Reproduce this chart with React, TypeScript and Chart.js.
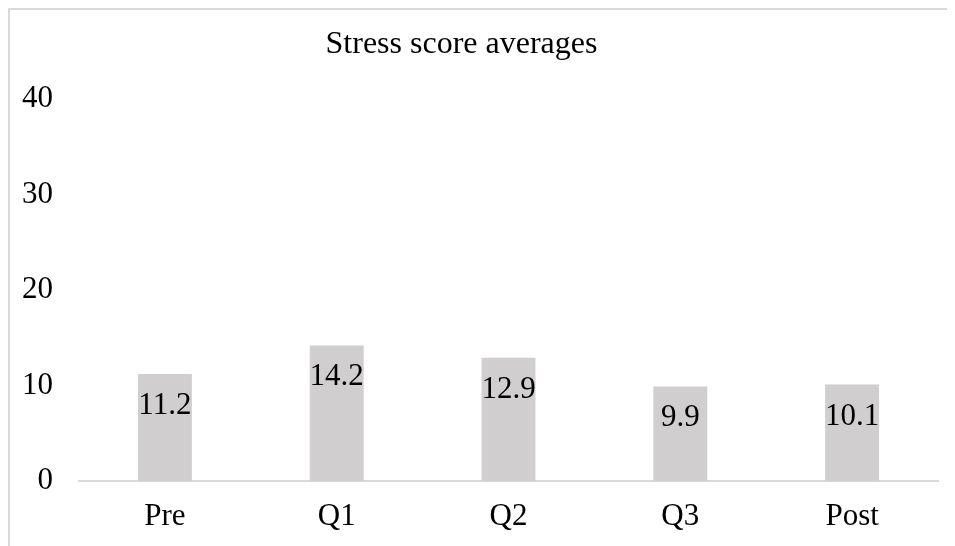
import { useEffect, useRef } from "react";
import { Chart, registerables } from "chart.js";

Chart.register(...registerables);

const categories = ["Pre", "Q1", "Q2", "Q3", "Post"];
const stressAverages = [11.2, 14.2, 12.9, 9.9, 10.1];
const yTickValues = [0, 10, 20, 30, 40];
const chartTitle = "Stress score averages";

const FONT = '"Liberation Serif", "Times New Roman", serif';

export default function App() {
  const ref = useRef<HTMLCanvasElement>(null);

  useEffect(() => {
    document.documentElement.style.overflow = "hidden";
    document.body.style.overflow = "hidden";
    const canvas = ref.current;
    if (!canvas) return;

    const titlePlugin = {
      id: "customTitle",
      afterDraw(chart: any) {
        const ctx = chart.ctx;
        ctx.save();
        ctx.font = `32px ${FONT}`;
        ctx.fillStyle = "#000";
        ctx.textAlign = "center";
        ctx.textBaseline = "alphabetic";
        ctx.fillText(chartTitle, 451.5, 43);
        ctx.restore();
      },
    };

    const dataLabelPlugin = {
      id: "dataLabels",
      afterDatasetsDraw(chart: any) {
        const ctx = chart.ctx;
        const meta = chart.getDatasetMeta(0);
        ctx.save();
        ctx.font = `31px ${FONT}`;
        ctx.fillStyle = "#000";
        ctx.textAlign = "center";
        ctx.textBaseline = "alphabetic";
        meta.data.forEach((bar: any, i: number) => {
          ctx.fillText(stressAverages[i].toFixed(1), bar.x, bar.y + 40);
        });
        ctx.restore();
      },
    };

    const chart = new Chart(canvas, {
      type: "bar",
      data: {
        labels: categories,
        datasets: [
          {
            label: "Stress score",
            data: stressAverages,
            backgroundColor: "#d0cece",
            borderWidth: 0,
            categoryPercentage: 1,
            barPercentage: 0.314,
          },
        ],
      },
      options: {
        responsive: false,
        animation: false,
        layout: { padding: { top: 89, right: 17, bottom: 11, left: 0 } },
        plugins: {
          legend: { display: false },
          title: { display: false },
          tooltip: { enabled: false },
        },
        scales: {
          x: {
            afterFit: (scale: any) => {
              scale.height = 54;
            },
            grid: { display: false, drawTicks: false },
            border: { display: true, color: "#d9d9d9", width: 2 },
            ticks: {
              color: "#000",
              font: { family: FONT, size: 31 },
              padding: 17,
            },
          },
          y: {
            min: 0,
            max: 40,
            afterBuildTicks: (scale: any) => {
              scale.ticks = yTickValues.map((v) => ({ value: v }));
            },
            afterFit: (scale: any) => {
              scale.width = 69;
            },
            grid: { display: false, drawTicks: false },
            border: { display: false },
            ticks: {
              color: "#000",
              font: { family: FONT, size: 31 },
              padding: 26,
            },
          },
        },
      },
      plugins: [titlePlugin, dataLabelPlugin],
    });

    return () => chart.destroy();
  }, []);

  return (
    <div
      style={{
        borderTop: "2px solid #d9d9d9",
        borderLeft: "2px solid #d9d9d9",
        width: 1200,
        height: 600,
        overflow: "hidden",
      }}
    >
      <canvas ref={ref} width={945} height={536} style={{ display: "block" }} />
    </div>
  );
}
